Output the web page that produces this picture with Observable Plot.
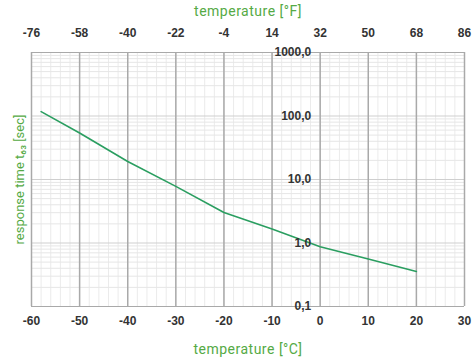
<!DOCTYPE html>
<html>
<head>
<meta charset="utf-8">
<script src="https://cdn.jsdelivr.net/npm/d3@7"></script>
<script src="https://cdn.jsdelivr.net/npm/@observablehq/plot@0.6"></script>
<style>
  html, body { margin: 0; padding: 0; background: #fff; }
</style>
</head>
<body>
<div id="chart"></div>
<script>
// Data
const tempC = [-58, -50, -40, -30, -20, -10, 0, 10, 20];
const responseTime = [117, 54, 19.2, 7.8, 3.03, 1.66, 0.875, 0.56, 0.357];

// Axis ticks and labels
const xTicksC = [-60, -50, -40, -30, -20, -10, 0, 10, 20, 30];
const xTickLabelsF = ["-76", "-58", "-40", "-22", "-4", "14", "32", "50", "68", "86"];
const yTicks = [0.1, 1, 10, 100, 1000];
const yTickLabels = ["0,1", "1,0", "10,0", "100,0", "1000,0"];
const yLabelAtC = 0;

const titleF = "temperature [°F]";
const titleC = "temperature [°C]";
const titleY = "response time t₆₃ [sec]";

const data = tempC.map((t, i) => ({t, r: responseTime[i]}));

// Minor grid positions
const xMinor = d3.range(-60, 31, 2);
const yMinor = [];
for (const dec of [0.1, 1, 10, 100]) for (let k = 2; k <= 9; k++) yMinor.push(+(dec * k).toPrecision(3));

const green = "#55aa45";
const lineGreen = "#2a9e60";

const chart = Plot.plot({
  width: 474,
  height: 361,
  marginLeft: 31,
  marginRight: 10,
  marginTop: 52,
  marginBottom: 55,
  style: {fontFamily: "'Liberation Sans', Arial, sans-serif", fontSize: "12px", fontWeight: "bold", color: "#333", background: "#fff"},
  x: {domain: [-60, 30]},
  y: {type: "log", domain: [0.1, 1000], axis: null},
  marks: [
    Plot.ruleX(xMinor, {stroke: "#ebebeb", strokeWidth: 1}),
    Plot.ruleY(yMinor, {stroke: "#e6e6e6", strokeWidth: 1}),
    Plot.ruleY([1, 10, 100], {stroke: "#cfcfcf", strokeWidth: 1}),
    Plot.ruleX(xTicksC, {stroke: "#a9a9a9", strokeWidth: 1.5}),
    Plot.ruleY([0.1, 1000], {stroke: "#a9a9a9", strokeWidth: 1.2}),
    Plot.line(data, {x: "t", y: "r", stroke: lineGreen, strokeWidth: 1.6}),
    Plot.text(yTicks, {x: () => yLabelAtC, y: d => d, text: (d, i) => yTickLabels[i], textAnchor: "end", dx: -9, fill: "#333", fontSize: 12}),
    Plot.axisX({anchor: "bottom", ticks: xTicksC, tickSize: 0, tickPadding: 10, tickFormat: d => String(d), label: null, fill: "#333"}),
    Plot.axisX({anchor: "top", ticks: xTicksC, tickSize: 0, tickPadding: 16, tickFormat: (d, i) => xTickLabelsF[i], label: null, fill: "#333"}),
    Plot.text([titleF], {text: d => d, frameAnchor: "top", dy: -41, fill: green, fontFamily: "Roboto, sans-serif", fontWeight: "normal", fontSize: 14, lineAnchor: "middle", textAnchor: "middle"}),
    Plot.text([titleC], {text: d => d, frameAnchor: "bottom", dy: 43, fill: green, fontFamily: "Roboto, sans-serif", fontWeight: "normal", fontSize: 14, lineAnchor: "middle", textAnchor: "middle"}),
    Plot.text([titleY], {text: d => d, frameAnchor: "left", dx: -12, rotate: -90, fill: green, fontFamily: "Roboto, 'DejaVu Sans', sans-serif", fontWeight: "normal", fontSize: 13, lineAnchor: "middle", textAnchor: "middle"})
  ]
});
d3.select(chart).selectAll("text")
  .filter(function () { return this.textContent === titleF || this.textContent === titleC; })
  .attr("letter-spacing", "0.5px");
document.getElementById("chart").appendChild(chart);
</script>
</body>
</html>
